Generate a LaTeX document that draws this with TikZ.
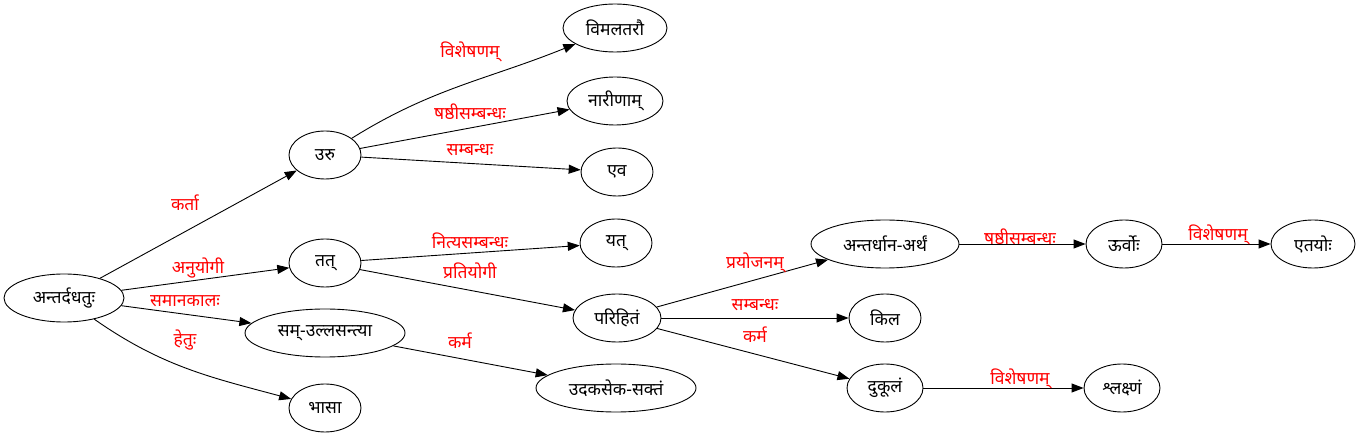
\documentclass[tikz,border=0pt]{standalone}
\usepackage{fontspec}
\setmainfont[Script=Devanagari]{Noto Sans}
\usetikzlibrary{arrows.meta,shapes.geometric}
\begin{document}
\begin{tikzpicture}[x=1pt,y=1pt,
  nd/.style={draw,ellipse,inner sep=0pt,minimum height=48pt,line width=0.9pt,font=\fontsize{17.5}{20}\selectfont},
  edge/.style={draw,line width=0.9pt,-{Triangle[length=12pt,width=9pt]}},
  lbl/.style={text=red,font=\fontsize{17.5}{20}\selectfont,inner sep=0pt}]
\useasboundingbox (0,0) rectangle (1359,436);
\node[nd,minimum width=120pt] (A) at (64,138) {अन्तर्दधतुः};
\node[nd,minimum width=72pt] (uru) at (325,281) {उरु};
\node[nd,minimum width=72pt] (tat) at (325,173) {तत्};
\node[nd,minimum width=160pt] (sam) at (325,103) {सम्-उल्लसन्त्या};
\node[nd,minimum width=72pt] (bhasa) at (325,28) {भासा};
\node[nd,minimum width=104pt] (vimal) at (615,408) {विमलतरौ};
\node[nd,minimum width=96pt] (nari) at (615,335) {नारीणाम्};
\node[nd,minimum width=72pt] (eva) at (617,264) {एव};
\node[nd,minimum width=72pt] (yat) at (616,193) {यत्};
\node[nd,minimum width=88pt] (pari) at (617,118) {परिहितं};
\node[nd,minimum width=160pt] (udaka) at (616,48) {उदकसेक-सक्तं};
\node[nd,minimum width=148pt] (antar) at (885,192) {अन्तर्धान-अर्थं};
\node[nd,minimum width=72pt] (kila) at (885,118) {किल};
\node[nd,minimum width=76pt] (duk) at (885,48) {दुकूलं};
\node[nd,minimum width=76pt] (urvo) at (1124,192) {ऊर्वोः};
\node[nd,minimum width=76pt] (shl) at (1122,48) {श्लक्ष्णं};
\node[nd,minimum width=84pt] (etay) at (1313,192) {एतयोः};

\draw[edge] (A) -- (uru) node[lbl,at={(185,233)}] {कर्ता};
\draw[edge] (A) -- (tat) node[lbl,at={(198,168)}] {अनुयोगी};
\draw[edge] (A) -- (sam) node[lbl,at={(185,135)}] {समानकालः};
\draw[edge] (A) to[out=-35,in=165] (bhasa) node[lbl,at={(185,96)}] {हेतुः};
\draw[edge] (uru) to[out=32,in=202] (vimal) node[lbl,at={(470,384)}] {विशेषणम्};
\draw[edge] (uru) -- (nari) node[lbl,at={(470,324)}] {षष्ठीसम्बन्धः};
\draw[edge] (uru) -- (eva) node[lbl,at={(470,286)}] {सम्बन्धः};
\draw[edge] (tat) -- (yat) node[lbl,at={(470,195)}] {नित्यसम्बन्धः};
\draw[edge] (tat) -- (pari) node[lbl,at={(470,165)}] {प्रतियोगी};
\draw[edge] (sam) -- (udaka) node[lbl,at={(460,95)}] {कर्म};
\draw[edge] (pari) -- (antar) node[lbl,at={(755,173)}] {प्रयोजनम्};
\draw[edge] (pari) -- (kila) node[lbl,at={(755,131)}] {सम्बन्धः};
\draw[edge] (pari) -- (duk) node[lbl,at={(755,101)}] {कर्म};
\draw[edge] (antar) -- (urvo) node[lbl,at={(1020,199)}] {षष्ठीसम्बन्धः};
\draw[edge] (urvo) -- (etay) node[lbl,at={(1218,201)}] {विशेषणम्};
\draw[edge] (duk) -- (shl) node[lbl,at={(1020,57)}] {विशेषणम्};
\end{tikzpicture}
\end{document}
